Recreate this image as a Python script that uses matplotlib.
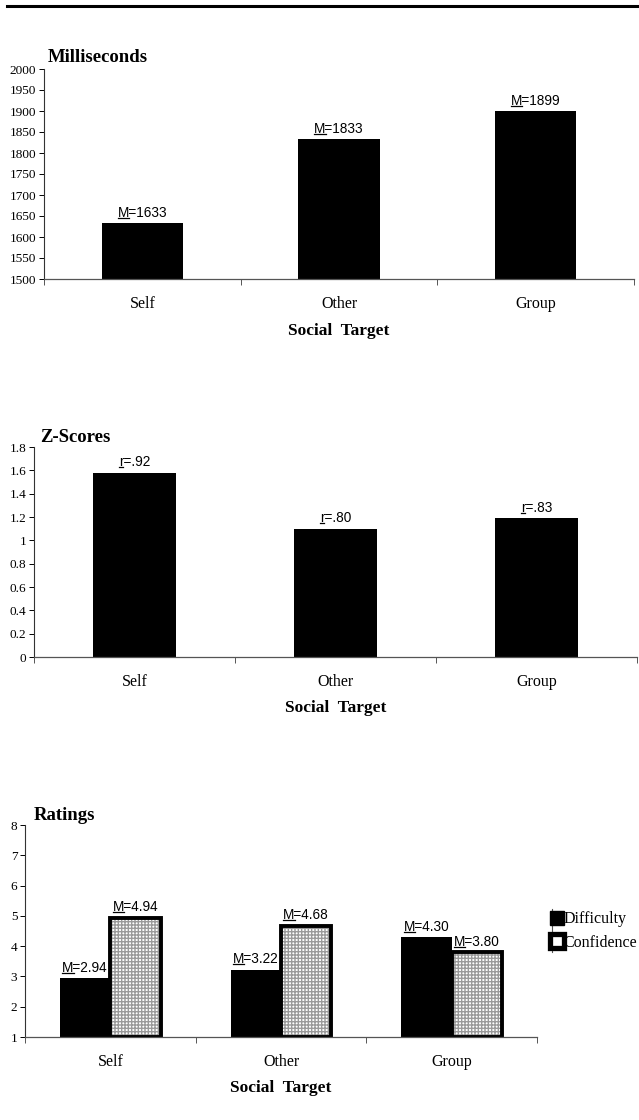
import matplotlib
matplotlib.use("Agg")
import matplotlib.pyplot as plt
from matplotlib.lines import Line2D

# data
targets = ["Self", "Other", "Group"]
ms_values = [1633, 1833, 1899]
ms_labels = ["=1633", "=1833", "=1899"]
z_values = [1.58, 1.10, 1.19]
z_labels = ["=.92", "=.80", "=.83"]
difficulty = [2.94, 3.22, 4.30]
confidence = [4.94, 4.68, 3.80]
diff_labels = ["=2.94", "=3.22", "=4.30"]
conf_labels = ["=4.94", "=4.68", "=3.80"]

ms_ticks = list(range(1500, 2001, 50))
z_ticks = [0, 0.2, 0.4, 0.6, 0.8, 1.0, 1.2, 1.4, 1.6, 1.8]
z_ticklabels = ["0", "0.2", "0.4", "0.6", "0.8", "1", "1.2", "1.4", "1.6", "1.8"]
rating_ticks = list(range(1, 9))

W, H = 639, 1120
SERIF = "Liberation Serif"
SANS = "Liberation Sans"

fig = plt.figure(figsize=(W / 100, H / 100), dpi=100)

# thick rule across the top
fig.add_artist(Line2D([7 / W, 1], [1 - 6 / H, 1 - 6 / H], color="black", lw=2.2))

underlined = []  # (text artist, letter)


def px_axes(x0, x1, ytop, ybot):
    return fig.add_axes([x0 / W, 1 - ybot / H, (x1 - x0) / W, (ybot - ytop) / H])


def style_axes(ax, yticks, yticklabels=None):
    for s in ["top", "right"]:
        ax.spines[s].set_visible(False)
    ax.spines["left"].set_color("#333333")
    ax.spines["bottom"].set_color("#555555")
    ax.spines["left"].set_linewidth(0.8)
    ax.spines["bottom"].set_linewidth(0.9)
    ax.set_xlim(-0.5, 2.5)
    ax.set_xticks([-0.5, 0.5, 1.5, 2.5])
    ax.set_xticklabels([])
    ax.set_xticks([0, 1, 2], minor=True)
    ax.set_xticklabels(targets, minor=True, fontsize=11.5, family=SERIF)
    ax.tick_params(axis="x", which="major", direction="out", length=4, width=0.7, color="#555555")
    ax.tick_params(axis="x", which="minor", length=0, pad=12)
    ax.set_yticks(yticks)
    if yticklabels is not None:
        ax.set_yticklabels(yticklabels)
    ax.tick_params(axis="y", direction="out", length=3.5, width=0.7, pad=2, labelsize=9.5)
    for lab in ax.get_yticklabels():
        lab.set_family(SERIF)


def add_label(ax, x, y, letter, rest):
    t = ax.annotate(letter + rest, (x, y), xytext=(0, 2.5), textcoords="offset points",
                    ha="center", va="bottom", fontsize=9.8, family=SANS)
    underlined.append((t, letter))


def titles(ax, title, tx, ty, xlab_y):
    fig.text(tx / W, 1 - ty / H, title, family=SERIF, fontweight="bold", fontsize=13.5, va="center")
    bb = ax.get_position()
    fig.text((bb.x0 + bb.x1) / 2, 1 - xlab_y / H, "Social  Target", family=SERIF,
             fontweight="bold", fontsize=12.5, ha="center", va="center")


# ---- panel 1: milliseconds
ax1 = px_axes(44, 634, 69, 279)
ax1.bar(range(3), [v - 1500 for v in ms_values], bottom=1500, width=0.415, color="black")
ax1.set_ylim(1500, 2000)
style_axes(ax1, ms_ticks)
for i, v in enumerate(ms_values):
    add_label(ax1, i, v, "M", ms_labels[i])
titles(ax1, "Milliseconds", 48, 58, 331)

# ---- panel 2: z-scores
ax2 = px_axes(34, 637, 447, 657)
ax2.bar(range(3), z_values, width=0.415, color="black")
ax2.set_ylim(0, 1.8)
style_axes(ax2, z_ticks, z_ticklabels)
for i, v in enumerate(z_values):
    add_label(ax2, i, v, "r", z_labels[i])
titles(ax2, "Z-Scores", 40, 437, 708)

# ---- panel 3: ratings
ax3 = px_axes(25, 537, 825, 1037)
xs = range(3)
bw = 0.295
xd = [x - bw / 2 for x in xs]
xc = [x + bw / 2 for x in xs]
ax3.bar(xd, [v - 1 for v in difficulty], bottom=1, width=bw, color="black")
ax3.bar(xc, [v - 1 for v in confidence], bottom=1, width=bw, color="white",
        edgecolor="#9a9a9a", hatch="+++++", lw=0)
ax3.bar(xc, [v - 1 for v in confidence], bottom=1, width=bw, fill=False,
        edgecolor="black", lw=2.8)
ax3.set_ylim(1, 8)
style_axes(ax3, rating_ticks)
for i in range(3):
    add_label(ax3, xd[i], difficulty[i], "M", diff_labels[i])
    add_label(ax3, xc[i], confidence[i], "M", conf_labels[i])
titles(ax3, "Ratings", 34, 815, 1088)

# legend
handles = [
    Line2D([], [], ls="none", marker="s", markersize=10, color="black"),
    Line2D([], [], ls="none", marker="s", markersize=10, markerfacecolor="white",
           markeredgecolor="black", markeredgewidth=3.8),
]
leg = fig.legend(handles, ["Difficulty", "Confidence"], loc="center left",
                 bbox_to_anchor=(553 / W, 1 - 931 / H), frameon=False, handlelength=0.55,
                 handletextpad=0.1, borderaxespad=0, borderpad=0, labelspacing=0.45,
                 prop={"family": SERIF, "size": 11.5})
fig.add_artist(Line2D([552 / W, 552 / W], [1 - 909 / H, 1 - 952 / H], color="#555555", lw=0.8))

# underline the statistic letters
fig.canvas.draw()
renderer = fig.canvas.get_renderer()
for t, letter in underlined:
    bb = t.get_window_extent(renderer)
    prop = t.get_fontproperties()
    wl, _, _ = renderer.get_text_width_height_descent(letter, prop, ismath=False)
    _, _, d = renderer.get_text_width_height_descent("lp", prop, ismath=False)
    y = bb.y0 + d - 1.2
    fig.add_artist(Line2D([bb.x0 / W, (bb.x0 + wl) / W], [y / H, y / H], color="black", lw=0.9))

fig.savefig("out.png", dpi=100)
